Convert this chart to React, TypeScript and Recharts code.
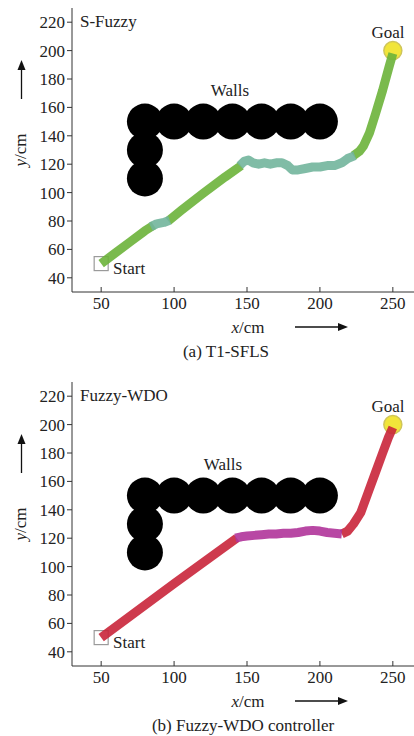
import {
  ComposedChart,
  Line,
  Scatter,
  XAxis,
  YAxis,
} from "recharts";

// axis ticks
const X_TICKS = [50, 100, 150, 200, 250];
const Y_TICKS = [40, 60, 80, 100, 120, 140, 160, 180, 200, 220];

// wall obstacles (circle centres, cm)
const WALL_X = [80, 100, 120, 140, 160, 180, 200, 80, 80];
const WALL_Y = [150, 150, 150, 150, 150, 150, 150, 130, 110];

const START = [{ x: 50, y: 50 }];
const GOAL = [{ x: 250, y: 200 }];

// (a) T1-SFLS path pieces
const sfA_x = [50, 60, 70, 80, 86];
const sfA_y = [50, 57.7, 65.4, 73.1, 77];
const sfB_x = [84, 88, 93, 97];
const sfB_y = [76, 78, 79, 80.5];
const sfC_x = [96, 105, 120, 135, 146];
const sfC_y = [80, 87.5, 99.5, 111, 119];
const sfD_x = [145, 148, 151, 154, 158, 162, 166, 170, 174, 178, 181, 185, 190, 195, 200, 205, 210, 215, 219, 224];
const sfD_y = [119, 122, 123, 121, 120, 121, 120, 121, 121, 119, 116, 116, 117, 118, 118, 119, 119, 121, 124, 126];
const sfE_x = [223, 227, 230, 234, 238, 243, 247, 250];
const sfE_y = [126, 129, 133, 142, 155, 172, 187, 198];

// (b) Fuzzy-WDO path pieces
const wdA_x = [50, 100, 143];
const wdA_y = [50, 88, 120];
const wdB_x = [142, 146, 150, 155, 160, 165, 170, 175, 180, 185, 190, 195, 200, 205, 210, 215];
const wdB_y = [120, 121, 121.5, 122, 122.5, 123, 123, 123.5, 123.5, 124, 125, 125.5, 125, 124, 123.5, 123];
const wdC_x = [215, 219, 223, 228, 233, 238, 243, 247, 250];
const wdC_y = [123, 125, 130, 138, 152, 166, 180, 191, 198];

const pts = (xs: number[], ys: number[]) => xs.map((x, i) => ({ x, y: ys[i] }));
const walls = pts(WALL_X, WALL_Y);

const FONT = "'Liberation Serif', 'Times New Roman', serif";
const INK = "#222";
const FS = 17;

const WallShape = (p: any) => <circle cx={p.cx} cy={p.cy} r={18} fill="#000" />;

const StartShape = (p: any) => (
  <rect x={p.cx - 7} y={p.cy - 7} width={14} height={14} fill="#fff" stroke="#9a9a9a" strokeWidth={1.2} />
);

const GoalShape = (p: any) => (
  <circle cx={p.cx} cy={p.cy} r={9} fill="#f1e53a" stroke="#cfc55a" strokeWidth={1.5} />
);

const XTick = (p: any) => {
  const axisY = p.y - 6;
  return (
    <g>
      <line x1={p.x} x2={p.x} y1={axisY} y2={axisY - 5} stroke="#333" />
      <text x={p.x} y={axisY + 17} textAnchor="middle" fontSize={FS} fontFamily={FONT} fill={INK}>
        {p.payload.value}
      </text>
    </g>
  );
};

interface Seg {
  data: { x: number; y: number }[];
  color: string;
}

const PathChart = ({ segs, top }: { segs: Seg[]; top: number }) => (
  <div style={{ position: "absolute", left: 0, top }}>
    <ComposedChart width={430} height={322} margin={{ top: 8, right: 8, bottom: 0, left: 0 }}>
      <XAxis
        dataKey="x"
        type="number"
        domain={[30, 270]}
        ticks={X_TICKS}
        allowDataOverflow
        height={30}
        tickLine={false}
        tickSize={0}
        tickMargin={6}
        tick={XTick}
        axisLine={{ stroke: "#333" }}
      />
      <XAxis
        xAxisId="top"
        orientation="top"
        type="number"
        domain={[30, 270]}
        height={0}
        tick={false}
        tickLine={false}
        axisLine={{ stroke: "#333" }}
      />
      <YAxis
        dataKey="y"
        type="number"
        domain={[30, 230]}
        ticks={Y_TICKS}
        allowDataOverflow
        width={72}
        tickSize={5}
        tickMargin={2}
        tickLine={{ stroke: "#333" }}
        axisLine={{ stroke: "#333" }}
        tick={{ fontSize: FS, fontFamily: FONT, fill: INK }}
      />
      <Scatter data={walls} shape={WallShape} isAnimationActive={false} zIndex={300} />
      <Scatter data={START} shape={StartShape} isAnimationActive={false} zIndex={300} />
      <Scatter data={GOAL} shape={GoalShape} isAnimationActive={false} zIndex={300} />
      {segs.map((s, i) => (
        <Line
          key={i}
          data={s.data}
          dataKey="y"
          type="linear"
          stroke={s.color}
          strokeWidth={9}
          strokeOpacity={0.9}
          strokeLinejoin="round"
          dot={false}
          activeDot={false}
          isAnimationActive={false}
          zIndex={700}
        />
      ))}
    </ComposedChart>
  </div>
);

const Arrow = ({ x1, y1, x2, y2 }: { x1: number; y1: number; x2: number; y2: number }) => {
  const dx = x2 - x1;
  const dy = y2 - y1;
  const len = Math.hypot(dx, dy);
  const ux = dx / len;
  const uy = dy / len;
  const bx = x2 - ux * 10;
  const by = y2 - uy * 10;
  return (
    <g>
      <line x1={x1} y1={y1} x2={bx} y2={by} stroke="#111" strokeWidth={1.3} />
      <polygon
        points={`${x2},${y2} ${bx - uy * 4},${by + ux * 4} ${bx + uy * 4},${by - ux * 4}`}
        fill="#111"
      />
    </g>
  );
};

const Labels = ({ off, name, walls: wallsX, caption, capX }: { off: number; name: string; walls: number; caption: string; capX: number }) => (
  <g fontFamily={FONT} fontSize={FS} fill={INK} dominantBaseline="central">
    <text x={80} y={off + 21}>{name}</text>
    <text x={388} y={off + 32} textAnchor="middle">Goal</text>
    <text x={wallsX} y={off + 90} textAnchor="middle">Walls</text>
    <text x={113} y={off + 268}>Start</text>
    <text x={248} y={off + 327} textAnchor="middle">
      <tspan fontStyle="italic">x</tspan>/cm
    </text>
    <Arrow x1={295} y1={off + 327} x2={348} y2={off + 327} />
    <text x={capX} y={off + 351} textAnchor="middle">{caption}</text>
    <text x={20} y={off + 150} textAnchor="middle" transform={`rotate(-90 20 ${off + 150})`}>
      <tspan fontStyle="italic">y</tspan>/cm
    </text>
    <Arrow x1={21.5} y1={off + 99} x2={21.5} y2={off + 60} />
  </g>
);

export default function App() {
  const segsA: Seg[] = [
    { data: pts(sfA_x, sfA_y), color: "#6cb33a" },
    { data: pts(sfC_x, sfC_y), color: "#6cb33a" },
    { data: pts(sfE_x, sfE_y), color: "#6cb33a" },
    { data: pts(sfB_x, sfB_y), color: "#72b59c" },
    { data: pts(sfD_x, sfD_y), color: "#72b59c" },
  ];
  const segsB: Seg[] = [
    { data: pts(wdA_x, wdA_y), color: "#c9253a" },
    { data: pts(wdC_x, wdC_y), color: "#c9253a" },
    { data: pts(wdB_x, wdB_y), color: "#b0349a" },
  ];
  return (
    <div style={{ position: "absolute", left: 0, top: 0, width: 414, height: 736, overflow: "hidden", background: "#fff" }}>
      <PathChart segs={segsA} top={0} />
      <PathChart segs={segsB} top={374} />
      <svg width={414} height={736} style={{ position: "absolute", left: 0, top: 0, pointerEvents: "none" }}>
        <Labels off={0} name="S-Fuzzy" walls={230} caption="(a) T1-SFLS" capX={226} />
        <Labels off={374} name="Fuzzy-WDO" walls={223} caption="(b) Fuzzy-WDO controller" capX={243} />
      </svg>
    </div>
  );
}
